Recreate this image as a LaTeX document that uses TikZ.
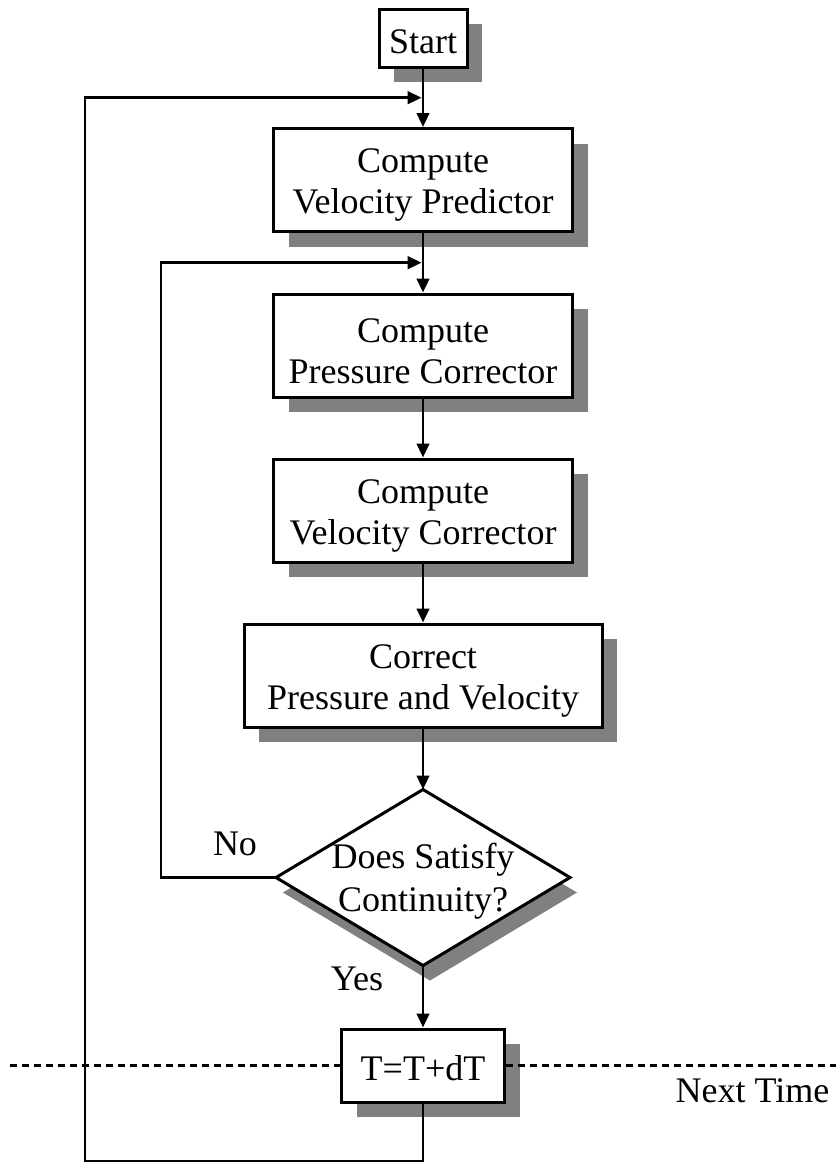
\documentclass[tikz,border=0pt]{standalone}
\usepackage{fontspec}
\setmainfont{Liberation Serif}
\usetikzlibrary{arrows.meta,shadows}
\newcommand\lowerA{\rule{0pt}{34.6pt}}
\newcommand\lowerB{\rule{0pt}{30.5pt}}
\newcommand\lowerC{\rule{0pt}{32.8pt}}
\tikzset{
  flowbox/.style={draw=black,line width=3pt,fill=white,inner sep=0pt,align=center,
    font=\fontsize{36}{41}\selectfont,
    drop shadow={shadow xshift=15pt,shadow yshift=-15pt,fill=black!50,opacity=1}},
  conn/.style={line width=2.8pt,line join=miter},
  arr/.style={conn,-{Triangle[length=14pt,width=12.5pt]}},
  lbl/.style={inner sep=0pt,anchor=base,font=\fontsize{36}{41}\selectfont},
  timeline/.style={line width=2.6pt,dash pattern=on 7pt off 5pt}
}
\begin{document}
\begin{tikzpicture}[x=1pt,y=-1pt]
\useasboundingbox (0,0) rectangle (836,1162);
\fill[white] (0,0) rectangle (836,1162);

% boxes
\node[flowbox,minimum width=88pt,minimum height=58pt] (start) at (423,38) {\lowerB Start};
\node[flowbox,minimum width=299pt,minimum height=103pt] (vp) at (423,180) {\lowerA Compute\\Velocity Predictor};
\node[flowbox,minimum width=299pt,minimum height=103pt] (pc) at (423,345.5) {\lowerA Compute\\Pressure Corrector};
\node[flowbox,minimum width=299pt,minimum height=103pt] (vc) at (423,510.5) {\lowerA Compute\\Velocity Corrector};
\node[flowbox,minimum width=358pt,minimum height=103pt] (cor) at (423,675.5) {\lowerA Correct\\Pressure and Velocity};

% decision diamond
\coordinate (dc) at (423,877.5);
\coordinate (dtop) at (423,789.5);
\coordinate (dbot) at (423,965.5);
\coordinate (dleft) at (276,877.5);
\coordinate (dright) at (570,877.5);
\fill[black!50] ([shift={(7,15)}]dtop) -- ([shift={(7,15)}]dright) -- ([shift={(7,15)}]dbot) -- ([shift={(7,15)}]dleft) -- cycle;
\draw[line width=3pt,fill=white,line join=miter] (dtop) -- (dright) -- (dbot) -- (dleft) -- cycle;
\node[inner sep=0pt,align=center,font=\fontsize{36}{43}\selectfont] (dtext) at (dc) {\lowerC Does Satisfy\\Continuity?};

\node[flowbox,minimum width=163pt,minimum height=73pt] (t) at (423,1065.5) {\lowerB T=T+dT};

% labels
\node[lbl] (no) at (235,855) {No};
\node[lbl] (yes) at (357,990) {Yes};
\node[lbl] (next) at (752.5,1102.5) {Next Time};

% time line
\coordinate (tl0) at (10,1065.5);
\coordinate (tl1) at (836,1065.5);
\draw[timeline] (tl0) -- (t.west);
\draw[timeline] (t.east) -- (tl1);

% main flow
\draw[arr] (start.south) -- (vp.north);
\draw[arr] (vp.south) -- (pc.north);
\draw[arr] (pc.south) -- (vc.north);
\draw[arr] (vc.south) -- (cor.north);
\draw[arr] (cor.south) -- (dtop);
\draw[arr] (dbot) -- (t.north);

% inner loop (No)
\coordinate (ia) at (161,877.5);
\coordinate (ib) at (161,262.7);
\coordinate (ic) at (421.6,262.7);
\draw[arr] (dleft) -- (ia) -- (ib) -- (ic);

% outer loop (next time step)
\coordinate (oa) at (423,1161);
\coordinate (ob) at (85,1161);
\coordinate (oc) at (85,97.7);
\coordinate (od) at (421.6,97.7);
\draw[arr] (t.south) -- (oa) -- (ob) -- (oc) -- (od);
\end{tikzpicture}
\end{document}
